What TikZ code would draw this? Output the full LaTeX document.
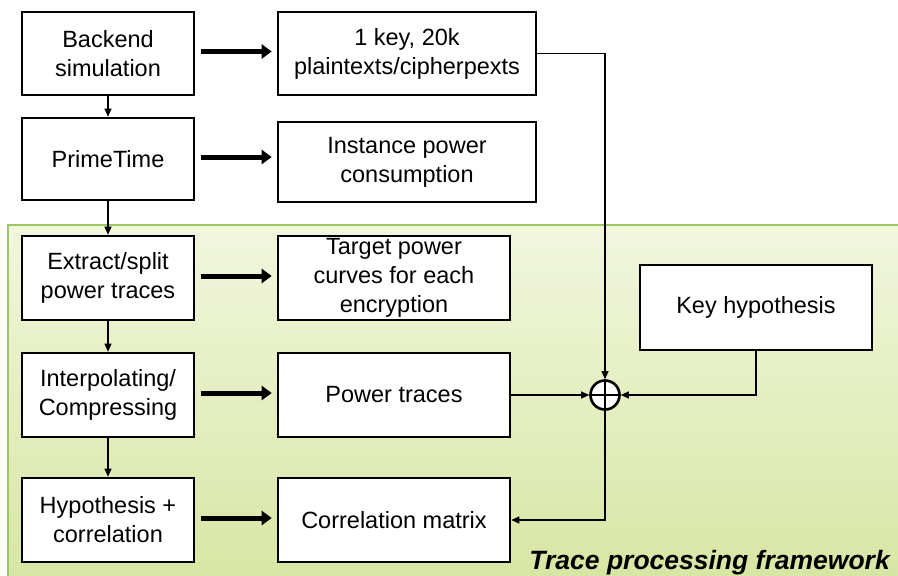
\documentclass[tikz,border=0pt]{standalone}
\usepackage{fontspec}
\setmainfont{Liberation Sans}
\usetikzlibrary{arrows.meta,calc}
\definecolor{gtop}{HTML}{F1F6DE}
\definecolor{gbot}{HTML}{D8E6A4}
\definecolor{gline}{HTML}{9DC75E}
\begin{document}
\begin{tikzpicture}[x=1pt,y=-1pt,
  box/.style={draw=black,line width=2.6pt,fill=white,align=center,font=\fontsize{23.5}{29}\selectfont,inner sep=0pt},
  thick arrow/.style={line width=5pt,-{Triangle[length=10pt,width=14pt]}},
  thin arrow/.style={line width=1.1pt,-{Triangle[length=8pt,width=7pt]}},
  thin line/.style={line width=1.1pt}]
\useasboundingbox (0,0) rectangle (898,576);
% green framework area
\shade[top color=gtop,bottom color=gbot] (8,225) rectangle (898,576);
\draw[gline,line width=1.5pt] (8,576) -- (8,225) -- (898,225);
% left column
\node[box,minimum width=172pt,minimum height=83pt] (b1) at (108,53.5) {Backend\\simulation};
\node[box,minimum width=172pt,minimum height=82pt] (b2) at (108,159) {PrimeTime};
\node[box,minimum width=172pt,minimum height=84pt] (b3) at (108,278) {Extract/split\\power traces};
\node[box,minimum width=172pt,minimum height=84pt] (b4) at (108,395) {Interpolating/\\Compressing};
\node[box,minimum width=172pt,minimum height=84pt] (b5) at (108,520) {Hypothesis +\\correlation};
% middle column
\node[box,minimum width=258pt,minimum height=83pt] (m1) at (407,53.5) {1 key, 20k\\plaintexts/cipherpexts};
\node[box,minimum width=258pt,minimum height=80pt] (m2) at (407,162) {Instance power\\consumption};
\node[box,minimum width=232pt,minimum height=84pt] (m3) at (394,278) {Target power\\curves for each\\encryption};
\node[box,minimum width=232pt,minimum height=84pt] (m4) at (394,395) {Power traces};
\node[box,minimum width=232pt,minimum height=84pt] (m5) at (394,520) {Correlation matrix};
% key hypothesis
\node[box,minimum width=232pt,minimum height=85pt] (kh) at (756,307.5) {Key hypothesis};
% xor
\node[circle,draw=black,line width=2.6pt,fill=white,minimum size=29pt,inner sep=0pt] (xr) at (605,395) {};
\draw[line width=2.2pt] (xr.north) -- (xr.south) (xr.west) -- (xr.east);
% vertical thin arrows
\foreach \a/\b in {b1/b2,b2/b3,b3/b4,b4/b5}
  \draw[thin arrow] (\a.south) -- (\b.north);
% thick arrows
\foreach \a/\b in {b1/m1,b2/m2,b3/m3,b4/m4,b5/m5}
  \draw[thick arrow] ($(\a.east)+(6,-2)$) -- ($(\b.west |- \a.east)+(-5,-2)$);
% connectors to xor
\draw[thin arrow] (m1.east) -| (xr.north);
\draw[thin arrow] (m4.east) -- (xr.west);
\draw[thin arrow] (kh.south) |- (xr.east);
\draw[thin arrow] (xr.south) |- (m5.east);
% title
\node[anchor=base east,font=\fontsize{26.5}{30}\selectfont\bfseries\itshape,inner sep=0pt] (ttl) at (890,569) {Trace processing framework};
\end{tikzpicture}
\end{document}
